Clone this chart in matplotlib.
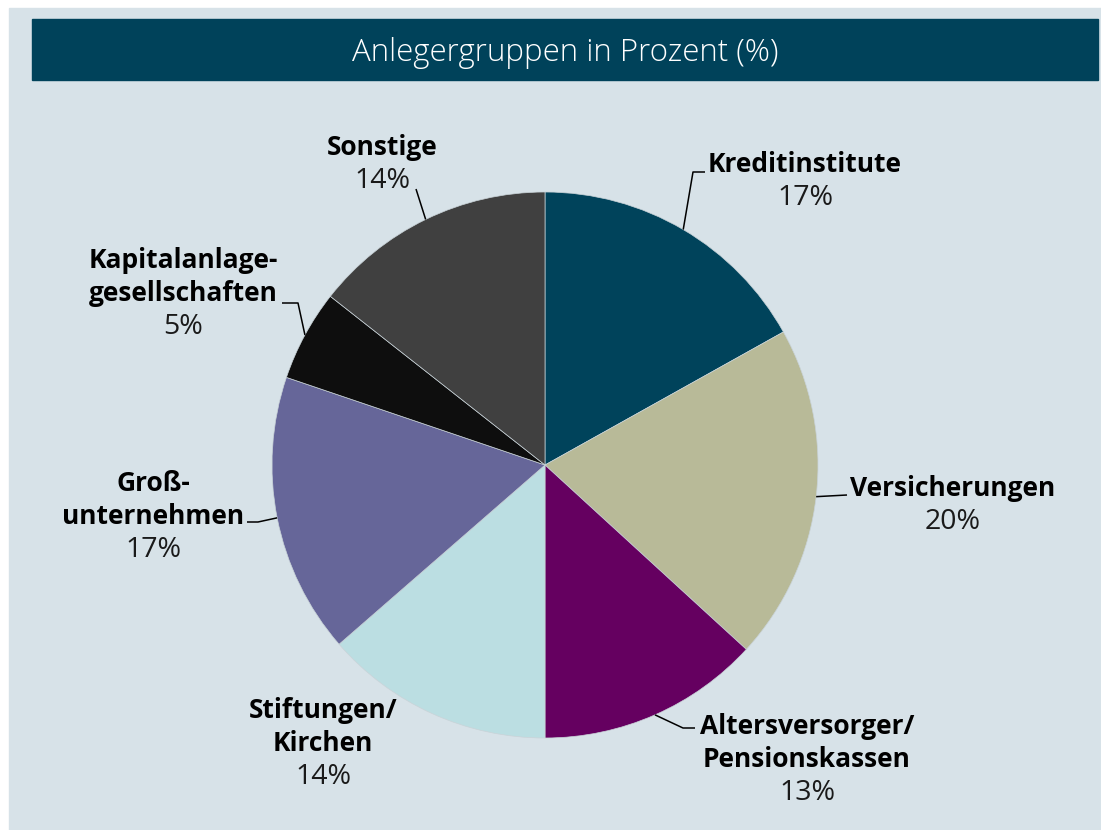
import matplotlib
matplotlib.use('Agg')
import matplotlib.pyplot as plt
from matplotlib.patches import Rectangle
import numpy as np

# ---- data ----
categories = ["Kreditinstitute", "Versicherungen", "Altersversorger/\nPensionskassen",
              "Stiftungen/\nKirchen", "Groß-\nunternehmen", "Kapitalanlage-\ngesellschaften",
              "Sonstige"]
values = [16.9, 19.9, 13.2, 13.6, 16.6, 5.4, 14.4]
colors = ["#00435b", "#b8ba98", "#650060", "#bbdee2", "#666699", "#0e0e0e", "#404040"]
title = "Anlegergruppen in Prozent (%)"

# ---- layout (image pixel coords: x, first-baseline y, leader elbows) ----
label_layout = [
    (805, 172, [(693, 172), (705, 172)]),
    (953, 496, [(847, 495)]),
    (807, 734, [(683, 728), (695, 728)]),
    (323, 718, []),
    (153, 491, [(258, 522), (247, 522)]),
    (183, 268, [(298, 303), (282, 303)]),
    (382, 155, [(416, 189)]),
]
LINE = 33

W, H = 1101, 830
plt.rcParams['font.family'] = ['Open Sans', 'DejaVu Sans']
fig = plt.figure(figsize=(W / 100, H / 100), dpi=100)
fig.patch.set_facecolor('white')
ax = fig.add_axes([0, 0, 1, 1])


def Y(y):
    return H - y


# background panel and title bar
ax.add_patch(Rectangle((9, 0), W - 9, H - 8, color="#d7e2e8", zorder=0))
ax.add_patch(Rectangle((32, Y(80)), 1066, 61, color="#00425a", zorder=1))
ax.text(565, Y(61), title, color="white", fontsize=22.5, fontweight='light',
        ha='center', va='baseline', zorder=2)

wedges, _ = ax.pie(values, colors=colors, startangle=90, counterclock=False,
                   center=(545, Y(465)), radius=273,
                   wedgeprops=dict(edgecolor="#c9d3d8", linewidth=0.5))
for w in wedges:
    w.set_zorder(3)

for w, cat, v, (lx, ly, elbows) in zip(wedges, categories, values, label_layout):
    mid = np.deg2rad((w.theta1 + w.theta2) / 2)
    cx, cy = w.center
    sx, sy = cx + w.r * np.cos(mid), cy + w.r * np.sin(mid)
    if elbows:
        xs = [sx] + [e[0] for e in elbows]
        ys = [sy] + [Y(e[1]) for e in elbows]
        ax.plot(xs, ys, color="black", lw=1.1, zorder=4, solid_capstyle='butt')
    lines = cat.split("\n")
    for i, ln in enumerate(lines):
        ax.text(lx, Y(ly + i * LINE), ln, fontsize=19, fontweight='bold',
                ha='center', va='baseline', color="black", zorder=5)
    ax.text(lx, Y(ly + len(lines) * LINE), f"{round(v)}%", fontsize=20.5,
            ha='center', va='baseline', color="#1a1a1a", zorder=5)

ax.set_xlim(0, W)
ax.set_ylim(0, H)
ax.set_aspect('auto')
ax.axis('off')
fig.savefig("out.png", dpi=100, facecolor='white')
